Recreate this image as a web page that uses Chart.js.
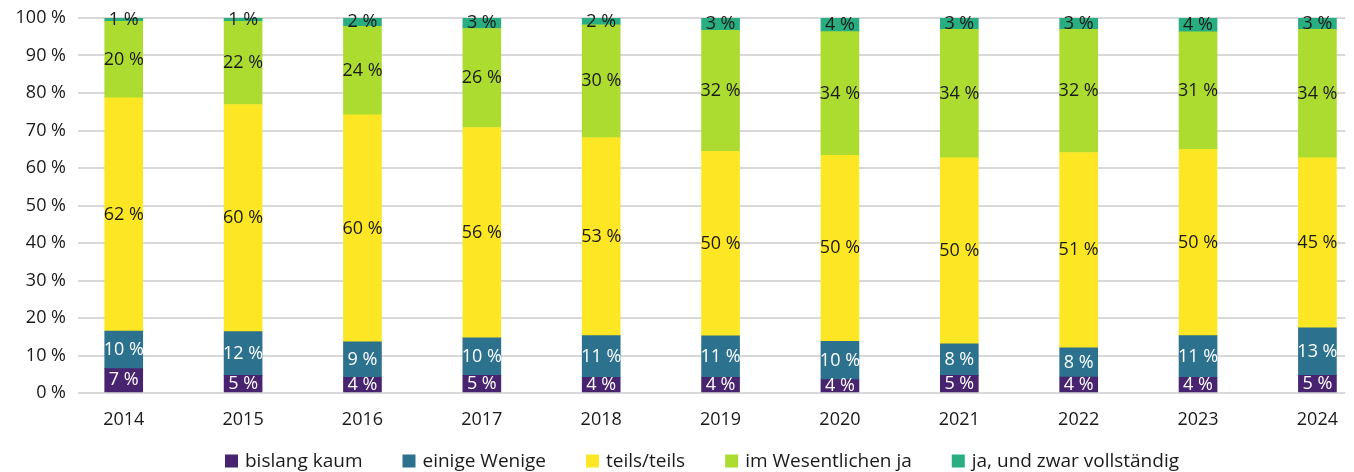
<!DOCTYPE html>
<html>
<head>
<meta charset="utf-8">
<script src="https://cdn.jsdelivr.net/npm/chart.js@4"></script>
<style>
  html, body { margin: 0; padding: 0; background: #fff; overflow: hidden; }
  #wrap { width: 1354px; height: 472px; }
</style>
</head>
<body>
<div id="wrap"><canvas id="chart"></canvas></div>
<script>
// === DATA ===
const years = ["2014", "2015", "2016", "2017", "2018", "2019", "2020", "2021", "2022", "2023", "2024"];
const seriesNames = ["bislang kaum", "einige Wenige", "teils/teils", "im Wesentlichen ja", "ja, und zwar vollständig"];

const bislangKaum    = [6.5, 4.7, 4.2, 4.7, 4.2, 4.2, 3.6, 4.7, 4.2, 4.2, 4.7];
const einigeWenige   = [10.0, 11.6, 9.4, 10.0, 11.1, 11.1, 10.4, 8.4, 7.7, 11.1, 12.7];
const teilsTeils     = [62.3, 60.4, 60.4, 56.1, 52.8, 49.5, 50.3, 49.6, 51.4, 49.7, 45.3];
const imWesentlichen = [20.4, 22.1, 23.6, 26.4, 30.1, 32.4, 33.5, 34.3, 32.4, 31.3, 34.3];
const vollstaendig   = [0.9, 0.9, 2.2, 2.8, 1.8, 3.3, 3.7, 3.0, 3.0, 3.7, 3.0];

const yTickValues = [0, 10, 20, 30, 40, 50, 60, 70, 80, 90, 100];

// === STYLE ===
const colors = ["#48236f", "#2c718e", "#fde725", "#addc30", "#28ae80"];
const labelColors = ["#ffffff", "#ffffff", "#1a1a1a", "#1a1a1a", "#1a1a1a"];
const FONT = "'Open Sans', 'DejaVu Sans', sans-serif";

// 100 % stacked: each year is scaled to its own total
const allSeries = [bislangKaum, einigeWenige, teilsTeils, imWesentlichen, vollstaendig];
const totals = years.map((y, i) => allSeries.reduce((s, arr) => s + arr[i], 0));

const datasets = allSeries.map((arr, k) => ({
  label: seriesNames[k],
  data: arr.map((v, i) => ({ x: i, y: v / totals[i] * 100 })),
  raw: arr,
  backgroundColor: colors[k],
  labelColor: labelColors[k],
  borderWidth: 0,
  barThickness: 38
}));

// === VALUE LABELS IN THE SEGMENTS ===
const segmentLabels = {
  id: "segmentLabels",
  afterDatasetsDraw(chart) {
    const ctx = chart.ctx;
    ctx.save();
    ctx.font = "18px " + FONT;
    ctx.textAlign = "center";
    ctx.textBaseline = "middle";
    chart.data.datasets.forEach((ds, di) => {
      chart.getDatasetMeta(di).data.forEach((bar, i) => {
        ctx.fillStyle = ds.labelColor;
        ctx.fillText(Math.round(ds.raw[i]) + " %", bar.x, (bar.y + bar.base) / 2);
      });
    });
    ctx.restore();
  }
};

// === LEGEND (drawn below the axis) ===
const bottomLegend = {
  id: "bottomLegend",
  afterDraw(chart) {
    const ctx = chart.ctx;
    const box = 13, gapText = 7, gapItem = 40, cy = 461, centerX = 702;
    ctx.save();
    ctx.font = "19px " + FONT;
    ctx.textBaseline = "middle";
    const widths = seriesNames.map(n => ctx.measureText(n).width);
    let total = widths.reduce((s, w) => s + box + gapText + w, 0) + gapItem * (seriesNames.length - 1);
    let x = centerX - total / 2;
    seriesNames.forEach((n, k) => {
      ctx.fillStyle = colors[k];
      ctx.fillRect(x, cy - box / 2, box, box);
      ctx.fillStyle = "#1a1a1a";
      ctx.fillText(n, x + box + gapText, cy + 1);
      x += box + gapText + widths[k] + gapItem;
    });
    ctx.restore();
  }
};

// === CHART ===
new Chart(document.getElementById("chart"), {
  type: "bar",
  data: { datasets },
  options: {
    responsive: true,
    maintainAspectRatio: false,
    animation: false,
    layout: { padding: { top: 18, right: 0, bottom: 40, left: 0 } },
    plugins: {
      legend: { display: false },
      tooltip: { enabled: false }
    },
    scales: {
      x: {
        type: "linear",
        stacked: true,
        offset: false,
        min: -0.383,
        max: 10.233,
        grid: { display: false, drawTicks: false },
        border: { display: false },
        afterFit: (scale) => { scale.height = 39; },
        ticks: {
          stepSize: 1,
          includeBounds: false,
          autoSkip: false,
          maxRotation: 0,
          padding: 16,
          color: "#1a1a1a",
          font: { family: FONT, size: 18 },
          callback: (v) => years[v] !== undefined && Number.isInteger(v) ? years[v] : ""
        }
      },
      y: {
        stacked: true,
        min: 0,
        max: 100,
        afterFit: (scale) => { scale.width = 78; scale.paddingTop = 0; scale.paddingBottom = 0; },
        afterBuildTicks: (scale) => { scale.ticks = yTickValues.map(v => ({ value: v })); },
        grid: { color: "#d9d9d9", lineWidth: 2, drawTicks: false },
        border: { display: false },
        ticks: {
          padding: 12,
          color: "#1a1a1a",
          font: { family: FONT, size: 18 },
          callback: (v) => v + " %"
        }
      }
    }
  },
  plugins: [segmentLabels, bottomLegend]
});
</script>
</body>
</html>
